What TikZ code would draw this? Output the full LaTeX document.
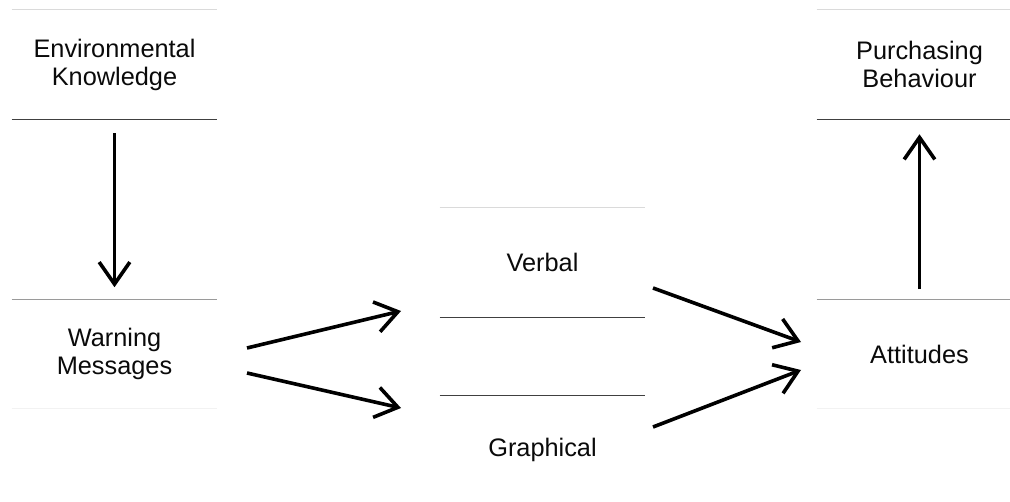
\documentclass[tikz,border=0pt]{standalone}
\usepackage{fontspec}
\setmainfont{Liberation Sans}
\usetikzlibrary{arrows.meta}
\definecolor{rulelight}{HTML}{DADADA}
\definecolor{ruledark}{HTML}{404040}
\definecolor{rulemid}{HTML}{9A9A9A}
\definecolor{rulefaint}{HTML}{F2F2F2}
\definecolor{ink}{HTML}{0A0A0A}
\begin{document}
\begin{tikzpicture}[x=0.75pt,y=-0.75pt,
  box/.style={minimum width=153.75pt,minimum height=81.75pt,inner sep=0pt,
    align=center,text=ink,font=\fontsize{19}{21}\selectfont},
  vtip/.style={-{Straight Barb[length=16.5pt,width=23pt,line width=2.7pt]}},
  thinarrow/.style={vtip,line width=1.6pt,black},
  thickarrow/.style={vtip,line width=2.7pt,black},
  edge/.style={line width=0.8pt}]
\useasboundingbox (0,0) rectangle (1010,502);

% boxes
\node[box] (ek) at (114.5,64.5) {Environmental\\Knowledge};
\node[box] (wm) at (114.5,354) {Warning\\Messages};
\node[box] (vb) at (542.5,262.5) {Verbal};
\node[box] (gr) at (542.5,450) {Graphical};
\node[box] (pb) at (919.5,64.5) {Purchasing\\Behaviour};
\node[box] (at) at (919.5,354) {Attitudes};

% box rules
\draw[edge,rulelight] (ek.north west) -- (ek.north east);
\draw[edge,ruledark]  (ek.south west) -- (ek.south east);
\draw[edge,rulemid]   (wm.north west) -- (wm.north east);
\draw[edge,rulefaint] (wm.south west) -- (wm.south east);
\draw[edge,rulelight] (vb.north west) -- (vb.north east);
\draw[edge,ruledark]  (vb.south west) -- (vb.south east);
\draw[edge,ruledark]  (gr.north west) -- (gr.north east);
\draw[edge,rulelight] (pb.north west) -- (pb.north east);
\draw[edge,ruledark]  (pb.south west) -- (pb.south east);
\draw[edge,rulemid]   (at.north west) -- (at.north east);
\draw[edge,rulefaint] (at.south west) -- (at.south east);

% arrow end points
\coordinate (wm1) at (247,348);
\coordinate (vb1) at (401,311);
\coordinate (wm2) at (247,373);
\coordinate (gr1) at (401,408);
\coordinate (vb2) at (653,288);
\coordinate (at1) at (801,342);
\coordinate (gr2) at (653,427);
\coordinate (at2) at (801,370);

% connectors
\draw[thinarrow,shorten <=10.5pt,shorten >=9pt] (ek.south) -- (wm.north);
\draw[thinarrow,shorten <=7.5pt,shorten >=11.25pt] (at.north) -- (pb.south);
\draw[thickarrow] (wm1) -- (vb1);
\draw[thickarrow] (wm2) -- (gr1);
\draw[thickarrow] (vb2) -- (at1);
\draw[thickarrow] (gr2) -- (at2);
\end{tikzpicture}
\end{document}
